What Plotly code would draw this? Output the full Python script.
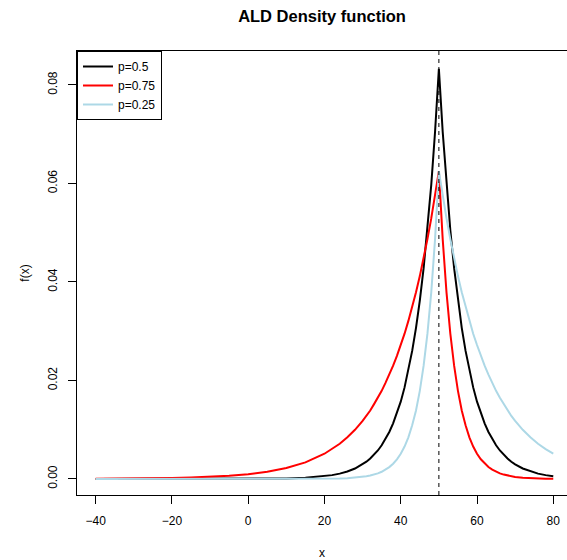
import plotly.graph_objects as go

# ---- data ----
x_vals = [-40, -35, -30, -25, -20, -15, -10, -5, 0, 5, 10, 15, 20, 22, 24, 26, 28,
          30, 31, 32, 33, 34, 35, 36, 37, 38, 39, 40, 41, 42, 43, 44, 45, 46, 47, 48, 49,
          50, 51, 52, 53, 54, 55, 56, 57, 58, 59, 60, 61, 62, 63, 64, 65, 66, 67, 68, 69,
          70, 72, 74, 76, 78, 80]

p050 = [0.0, 0.0, 0.0000001, 0.0000003, 0.0000007, 0.0000016, 0.0000038, 0.0000087,
        0.0000200, 0.0000461, 0.000106, 0.000244, 0.000561, 0.000784, 0.00109, 0.00153, 0.00213,
        0.00297, 0.00351, 0.00415, 0.00490, 0.00579, 0.00684, 0.00808, 0.00955, 0.0113, 0.0133,
        0.0157, 0.0186, 0.0220, 0.0260, 0.0307, 0.0362, 0.0428, 0.0505, 0.0597, 0.0705,
        0.0833, 0.0705, 0.0597, 0.0505, 0.0428, 0.0362, 0.0307, 0.0260, 0.0220, 0.0186,
        0.0157, 0.0133, 0.0113, 0.00955, 0.00808, 0.00684, 0.00579, 0.00490, 0.00415, 0.00351,
        0.00297, 0.00213, 0.00153, 0.00109, 0.000784, 0.000561]

p075 = [0.0000346, 0.0000524, 0.0000795, 0.000121, 0.000183, 0.000278, 0.000421, 0.000639,
        0.000969, 0.00147, 0.00223, 0.00338, 0.00513, 0.00606, 0.00716, 0.00846, 0.00999,
        0.0118, 0.0128, 0.0139, 0.0152, 0.0165, 0.0179, 0.0195, 0.0212, 0.0230, 0.0250,
        0.0272, 0.0295, 0.0321, 0.0349, 0.0379, 0.0412, 0.0448, 0.0487, 0.0529, 0.0575,
        0.0625, 0.0487, 0.0379, 0.0295, 0.0230, 0.0179, 0.0139, 0.0109, 0.00846, 0.00659,
        0.00513, 0.00400, 0.00311, 0.00242, 0.00189, 0.00147, 0.00114, 0.000892, 0.000694, 0.000541,
        0.000421, 0.000255, 0.000155, 0.0000940, 0.0000570, 0.0000346]

p025 = [0.0, 0.0, 0.0, 0.0, 0.0, 0.0, 0.0, 0.0,
        0.0000002, 0.0000008, 0.0000028, 0.0000099, 0.0000346, 0.0000570, 0.0000940, 0.000155, 0.000255,
        0.000421, 0.000541, 0.000694, 0.000892, 0.00114, 0.00147, 0.00189, 0.00242, 0.00311, 0.00400,
        0.00513, 0.00659, 0.00846, 0.0109, 0.0139, 0.0179, 0.0230, 0.0295, 0.0379, 0.0487,
        0.0625, 0.0575, 0.0529, 0.0487, 0.0448, 0.0412, 0.0379, 0.0349, 0.0321, 0.0295,
        0.0272, 0.0250, 0.0230, 0.0212, 0.0195, 0.0179, 0.0165, 0.0152, 0.0139, 0.0128,
        0.0118, 0.00999, 0.00846, 0.00716, 0.00606, 0.00513]

series_names = ["p=0.5", "p=0.75", "p=0.25"]
series_colors = ["black", "red", "lightblue"]
mu = 50

x_ticks = [-40, -20, 0, 20, 40, 60, 80]
y_ticks = [0.00, 0.02, 0.04, 0.06, 0.08]

FONT = "Liberation Sans, Arial, Helvetica, sans-serif"

fig = go.Figure()
for name, ys, col in zip(series_names, [p050, p075, p025], series_colors):
    fig.add_trace(go.Scatter(x=x_vals, y=ys, mode="lines", name=name,
                             line=dict(color=col, width=2)))

fig.add_vline(x=mu, line=dict(color="black", width=1, dash="4px,4px"), layer="above")

fig.update_layout(
    width=567, height=560,
    margin=dict(l=77, r=0, t=51, b=65, autoexpand=False),
    paper_bgcolor="white", plot_bgcolor="white",
    font=dict(family=FONT, size=12, color="black"),
    title=dict(text="<b>ALD Density function</b>", x=0.5, xref="paper",
               y=1 - 16 / 560, yref="container", yanchor="middle",
               font=dict(size=16.5, family=FONT, color="black")),
    legend=dict(x=0, y=1, xanchor="left", yanchor="top", bgcolor="white",
                bordercolor="black", borderwidth=1, font=dict(size=12),
                itemwidth=30, tracegroupgap=0),
    showlegend=True,
)
fig.update_xaxes(range=[-44.9, 83.6], tickvals=x_ticks, ticks="outside", ticklen=8,
                 tickcolor="black", showline=True, linecolor="black", linewidth=1,
                 mirror=True, showgrid=False, zeroline=False, automargin=False,
                 ticklabelstandoff=7,
                 title=dict(text="x", standoff=24, font=dict(size=12)))
fig.update_yaxes(range=[-0.00325, 0.0869], tickvals=y_ticks, tickformat=".2f",
                 tickangle=-90, ticks="outside", ticklen=8, tickcolor="black",
                 showline=True, linecolor="black", linewidth=1, mirror=False,
                 showgrid=False, zeroline=False, automargin=False, ticklabelstandoff=6,
                 title=dict(text="f(x)", standoff=14, font=dict(size=12)))

fig.write_html("out.html", config={"displayModeBar": False},
               post_script="document.body.style.margin='0';document.body.style.overflow='hidden';")
